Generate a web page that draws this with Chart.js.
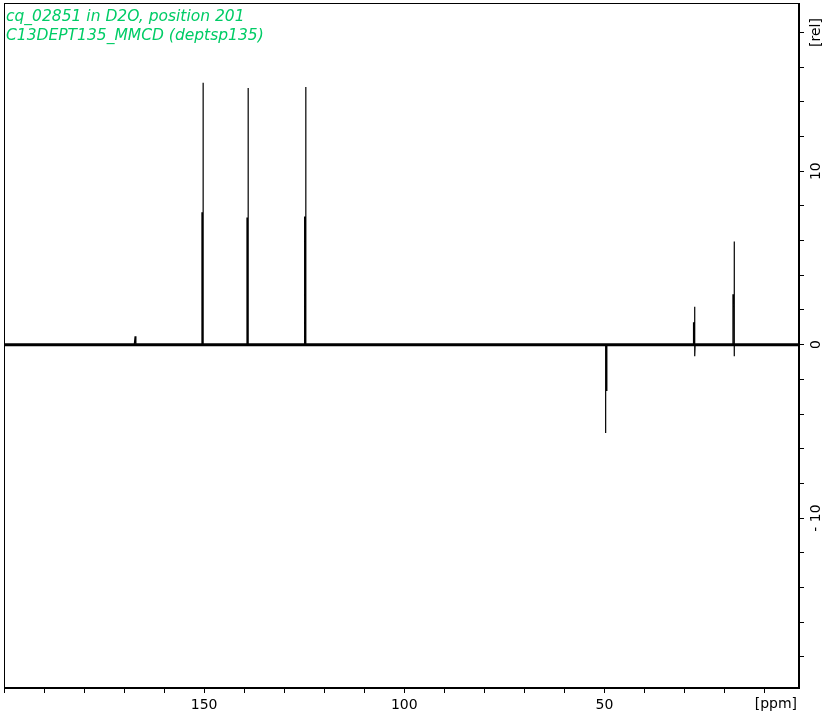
<!DOCTYPE html>
<html>
<head>
<meta charset="utf-8">
<script src="https://cdn.jsdelivr.net/npm/chart.js@4.4.1/dist/chart.umd.min.js"></script>
<style>
html, body { margin: 0; padding: 0; background: #fff; }
</style>
</head>
<body>
<canvas id="nmr" width="830" height="717"></canvas>
<script>
// spectrum vertices (ppm, rel. intensity)
var shiftPpm = [200, 167.45, 167.25, 167.05,
  150.55, 150.55, 150.25, 150.25, 150.25,
  139.3, 139.3, 139.0, 139.0, 139.0,
  124.9, 124.9, 124.6, 124.6, 124.6,
  49.7, 49.7, 49.7, 49.4, 49.4,
  27.75, 27.75, 27.45, 27.45, 27.45, 27.35,
  17.9, 17.9, 17.6, 17.6, 17.6, 17.5,
  1.4];
var intensity = [0, 0, 0.48, 0,
  0, 7.6, 7.6, 15.1, 0,
  0, 7.3, 7.3, 14.8, 0,
  0, 7.35, 7.35, 14.85, 0,
  0, -5.1, -2.64, -2.64, 0,
  0, 1.25, 1.25, 2.18, -0.67, 0,
  0, 2.87, 2.87, 5.94, -0.67, 0,
  0];

// the noisy baseline band
var bandPpm = [200, 1.4];
var bandValue = [0, 0];

var xTickValues = [200, 190, 180, 170, 160, 150, 140, 130, 120, 110, 100, 90, 80, 70, 60, 50, 40, 30, 20, 10];
var xLabelValues = [150, 100, 50];
var yTickValues = [18, 16, 14, 12, 10, 8, 6, 4, 2, 0, -2, -4, -6, -8, -10, -12, -14, -16, -18];
var yLabelValues = [18, 10, 0, -10];
var yLabelTexts = ['[rel]', '10', '0', '- 10'];
var titleLines = ['cq_02851 in D2O, position 201', 'C13DEPT135_MMCD (deptsp135)'];

function points(xs, ys) {
  return xs.map(function (x, i) { return { x: x, y: ys[i] }; });
}

var decorations = {
  id: 'decorations',
  afterDraw: function (chart) {
    var c = chart.ctx, a = chart.chartArea, ys = chart.scales.y;
    c.save();
    c.strokeStyle = '#000';
    c.lineWidth = 1;
    c.strokeRect(Math.round(a.left) + 0.5, Math.round(a.top) + 0.5,
      Math.round(a.right - a.left) - 1, Math.round(a.bottom - a.top) - 1);

    // rotated labels of the right axis
    c.fillStyle = '#000';
    c.font = '14px "DejaVu Sans"';
    c.textAlign = 'center';
    c.textBaseline = 'middle';
    yLabelValues.forEach(function (v, i) {
      c.save();
      c.translate(816, ys.getPixelForValue(v));
      c.rotate(-Math.PI / 2);
      c.fillText(yLabelTexts[i], 0, 0);
      c.restore();
    });

    // unit of the ppm axis
    c.textAlign = 'right';
    c.textBaseline = 'top';
    c.fillText('[ppm]', 797, 697);

    // title lines
    c.fillStyle = '#00cc66';
    c.font = 'italic 15.5px "DejaVu Sans"';
    c.textAlign = 'left';
    c.textBaseline = 'alphabetic';
    c.fillText(titleLines[0], 6, 21);
    c.fillText(titleLines[1], 6, 40);
    c.restore();
  }
};

new Chart(document.getElementById('nmr').getContext('2d'), {
  type: 'line',
  data: {
    datasets: [{
      data: points(bandPpm, bandValue),
      borderColor: '#000',
      borderWidth: 3,
      pointRadius: 0,
      fill: false
    }, {
      data: points(shiftPpm, intensity),
      borderColor: '#000',
      borderWidth: 1.2,
      pointRadius: 0,
      tension: 0,
      fill: false
    }]
  },
  options: {
    responsive: false,
    animation: false,
    devicePixelRatio: 1,
    layout: { padding: { left: 3, top: 3, right: 0, bottom: 0 } },
    plugins: { legend: { display: false }, tooltip: { enabled: false } },
    scales: {
      x: {
        type: 'linear',
        reverse: true,
        min: 1.4,
        max: 200,
        afterBuildTicks: function (s) { s.ticks = xTickValues.map(function (v) { return { value: v }; }); },
        afterFit: function (s) { s.height = 29; },
        grid: { drawOnChartArea: false, drawTicks: true, tickLength: 5, color: '#000' },
        border: { display: true, color: '#000', width: 1 },
        ticks: {
          autoSkip: false,
          maxRotation: 0,
          padding: 4,
          color: '#000',
          font: { family: 'DejaVu Sans', size: 14 },
          callback: function (v) { return xLabelValues.indexOf(v) >= 0 ? String(v) : ''; }
        }
      },
      y: {
        type: 'linear',
        position: 'right',
        min: -19.8,
        max: 19.7,
        afterBuildTicks: function (s) { s.ticks = yTickValues.map(function (v) { return { value: v }; }); },
        afterFit: function (s) { s.width = 31; },
        grid: { drawOnChartArea: false, drawTicks: true, tickLength: 5, color: '#000' },
        border: { display: true, color: '#000', width: 1 },
        ticks: { display: false }
      }
    }
  },
  plugins: [decorations]
});
</script>
</body>
</html>
